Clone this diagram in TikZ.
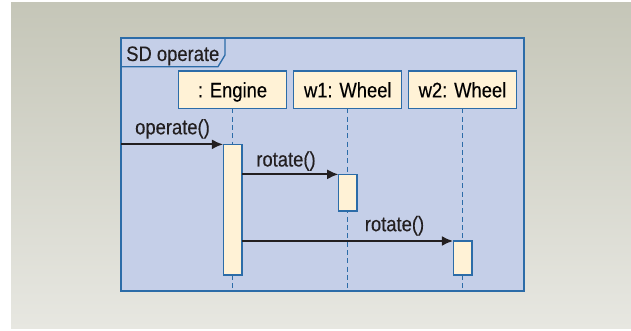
\documentclass[tikz,border=0pt]{standalone}
\usepackage{fontspec}
\setmainfont{Liberation Sans}[FakeStretch=0.876,FakeBold=0.3]
\usepackage{tikz}
\usetikzlibrary{arrows.meta,backgrounds}

\definecolor{bgtop}{RGB}{197,198,184}
\definecolor{bgbot}{RGB}{231,231,225}
\definecolor{sdblue}{RGB}{197,207,232}
\definecolor{sdline}{RGB}{44,108,168}
\definecolor{sdcream}{RGB}{255,242,214}
\definecolor{sdarrow}{RGB}{35,31,32}
\newcommand{\sdfont}{\fontsize{15.75}{19}\selectfont}

\tikzset{
  lifebox/.style={draw=sdline, line width=1pt, fill=sdcream, minimum width=81pt, minimum height=28pt, inner sep=0pt, outer sep=0pt, text height=11.5pt, text depth=0pt},
  actbar/.style={draw=sdline, line width=1pt, fill=sdcream, minimum width=14pt, inner sep=0pt, outer sep=0pt},
  lifeline/.style={draw=sdline, line width=1pt, dash pattern=on 3.75pt off 2.5pt},
  msg/.style={draw=sdarrow, line width=1.5pt, -{Latex[length=8.5pt,width=7.5pt]}},
  msglabel/.style={anchor=base, inner sep=0pt, text=sdarrow}
}

\begin{document}
\begin{tikzpicture}[x=0.75pt,y=0.75pt,yscale=-1,xscale=1, every node/.style={font=\sdfont}]
\useasboundingbox (0,0) rectangle (631,331);

%Background
\fill[white] (0,0) rectangle (631,331);
\shade[top color=bgtop, bottom color=bgbot] (11,3) rectangle (631,328);

%Shape: Frame
\node[draw=sdline, line width=1.1pt, fill=sdblue, minimum width=302.25pt, minimum height=189.75pt, inner sep=0pt, outer sep=0pt] (frame) at (322.5,164.5) {};
\draw[sdline, line width=1pt] (225,38) -- (225,55) -- (218,66.7) -- (frame.west |- 0,66.7);
% Text Node
\node[anchor=base west, inner sep=0pt, text=sdarrow] (sdname) at (126,61) {SD operate};

%Shape: Lifeline heads
\node[lifebox] (engine) at (232.5,89.7) {: Engine};
\node[lifebox] (wheelA) at (347.8,89.7) {w1: Wheel};
\node[lifebox] (wheelB) at (462.5,89.7) {w2: Wheel};

%Dashed Lines
\foreach \b in {engine,wheelA,wheelB}
  \draw[lifeline] (\b.south) -- (\b.south |- frame.south);

%Shape: Activation bars
\node[actbar, minimum height=98pt] (engbar) at (232.5,209.7) {};
\node[actbar, minimum height=27.5pt] (wheelAbar) at (347.8,192.7) {};
\node[actbar, minimum height=25.5pt] (wheelBbar) at (462.5,258) {};

%Arrows
\draw[msg] (frame.west |- engbar.north) -- (engbar.north west);
\draw[msg] (engbar.east |- wheelAbar.north) -- (wheelAbar.north west);
\draw[msg] (engbar.east |- wheelBbar.north) -- (wheelBbar.north west);

% Text Node
\node[msglabel] (opLabel) at (172.5,134.3) {operate()};
% Text Node
\node[msglabel] (rotLabelA) at (286,166.5) {rotate()};
% Text Node
\node[msglabel] (rotLabelB) at (394.5,231.2) {rotate()};

\end{tikzpicture}
\end{document}
